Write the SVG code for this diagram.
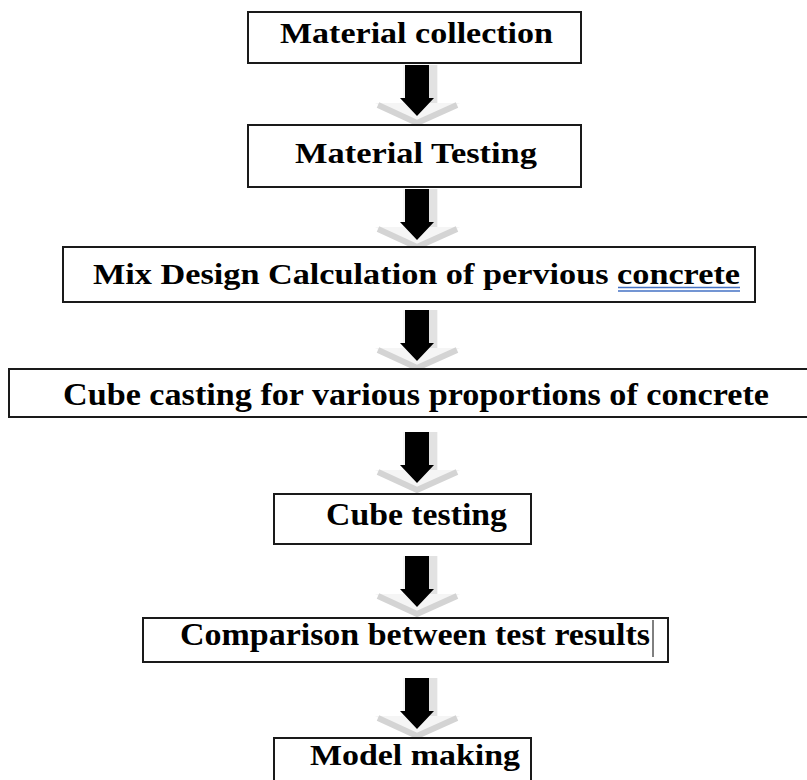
<svg xmlns="http://www.w3.org/2000/svg" width="807" height="780" viewBox="0 0 807 780">
<style>
.box{fill:#fff;stroke:#1a1a1a;stroke-width:2}
.lbl{font-family:"Liberation Serif","Times New Roman",serif;font-weight:bold;fill:#000}
</style>
<defs>
<g id="arrow">
<polygon points="403,0 438,0 438,38 460,38 417,60 375,38 403,38" fill="#f5f5f5"/>
<polyline points="378,40 417,58 457,40" fill="none" stroke="#d4d4d4" stroke-width="6"/>
<rect x="429" y="0" width="8" height="38" fill="#e2e2e2"/>
<polygon points="405,0 429,0 429,33 434,33 417,51 400,33 405,33" fill="#000"/>
</g>
</defs>
<rect width="807" height="780" fill="#fff"/>
<g id="connectors">
<use href="#arrow" transform="translate(0,65)"/>
<use href="#arrow" transform="translate(0,189)"/>
<use href="#arrow" transform="translate(0,310)"/>
<use href="#arrow" transform="translate(0,432)"/>
<use href="#arrow" transform="translate(0,556)"/>
<use href="#arrow" transform="translate(0,678)"/>
</g>
<g id="n1">
<rect class="box" x="248" y="12" width="333" height="51"/>
<text class="lbl" x="280" y="43" font-size="30" textLength="273" lengthAdjust="spacingAndGlyphs">Material collection</text>
</g>
<g id="n2">
<rect class="box" x="248" y="125" width="333" height="62"/>
<text class="lbl" x="295" y="163" font-size="30" textLength="242" lengthAdjust="spacingAndGlyphs">Material Testing</text>
</g>
<g id="n3">
<rect class="box" x="63" y="247" width="692" height="55"/>
<text class="lbl" x="93" y="284" font-size="29" textLength="647" lengthAdjust="spacingAndGlyphs">Mix Design Calculation of pervious concrete</text>
<line x1="618" y1="287.5" x2="740" y2="287.5" stroke="#4472c4" stroke-width="1.5"/>
<line x1="618" y1="291" x2="740" y2="291" stroke="#4472c4" stroke-width="1.5"/>
</g>
<g id="n4">
<rect class="box" x="9" y="369" width="810" height="48"/>
<text class="lbl" x="63" y="405" font-size="31" textLength="706" lengthAdjust="spacingAndGlyphs">Cube casting for various proportions of concrete</text>
</g>
<g id="n5">
<rect class="box" x="274" y="494" width="257" height="50"/>
<text class="lbl" x="326" y="525" font-size="31" textLength="181" lengthAdjust="spacingAndGlyphs">Cube testing</text>
</g>
<g id="n6">
<rect class="box" x="143" y="618" width="525" height="44"/>
<text class="lbl" x="180" y="645" font-size="31" textLength="470" lengthAdjust="spacingAndGlyphs">Comparison between test results</text>
<line x1="653" y1="620" x2="653" y2="657" stroke="#000" stroke-width="1"/>
</g>
<g id="n7">
<rect class="box" x="274" y="738" width="257" height="50"/>
<text class="lbl" x="310" y="765" font-size="30" textLength="210" lengthAdjust="spacingAndGlyphs">Model making</text>
</g>
</svg>
